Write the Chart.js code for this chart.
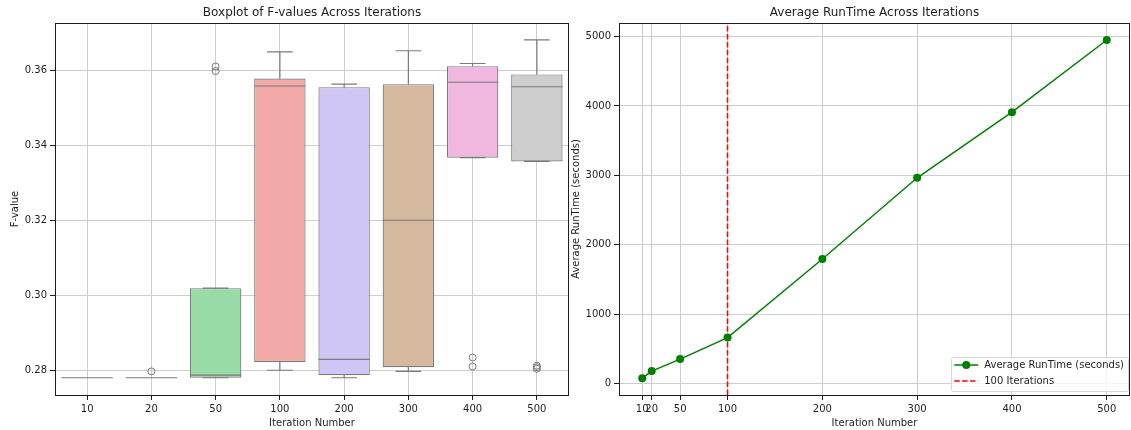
<!DOCTYPE html>
<html lang="en">
<head>
<meta charset="UTF-8">
<title>F-values and RunTime Across Iterations</title>
<script src="https://cdn.jsdelivr.net/npm/chart.js@4.4.1/dist/chart.umd.min.js"></script>
<style>
  body { margin: 0; background: #fff; }
  #wrap { position: relative; width: 1131px; height: 430px; }
  #boxChart { position: absolute; left: 0; top: 0; }
  #runChart { position: absolute; left: 570px; top: 0; }
</style>
</head>
<body>
<div id="wrap">
  <canvas id="boxChart" width="570" height="430"></canvas>
  <canvas id="runChart" width="561" height="430"></canvas>
</div>
<script>
// --- data: F-value boxplots ---
const iterations = ['10', '20', '50', '100', '200', '300', '400', '500'];
const fQ1 = [0.2780, 0.2780, 0.2780, 0.2822, 0.2787, 0.2808, 0.3367, 0.3357];
const fMedian = [0.2780, 0.2780, 0.2787, 0.3558, 0.2829, 0.3200, 0.3568, 0.3556];
const fQ3 = [0.2780, 0.2780, 0.3019, 0.3578, 0.3555, 0.3563, 0.3611, 0.3589];
const fWhiskerLow = [0.2780, 0.2780, 0.2780, 0.2800, 0.2780, 0.2797, 0.3367, 0.3357];
const fWhiskerHigh = [0.2780, 0.2780, 0.3019, 0.3649, 0.3563, 0.3652, 0.3618, 0.3681];
const fOutliers = [[], [0.2797], [0.3610, 0.3598], [], [], [], [0.2834, 0.2810], [0.2812, 0.2808, 0.2804]];
const fTicks = [0.28, 0.30, 0.32, 0.34, 0.36];

// --- data: average runtime ---
const runIterations = [10, 20, 50, 100, 200, 300, 400, 500];
const avgRunTime = [77, 180, 352, 662, 1795, 2965, 3910, 4950];
const runTicks = [0, 1000, 2000, 3000, 4000, 5000];
const markerIteration = 100;

const boxColors = ['#a7c6ea', '#f7b88f', '#98dba7', '#f1a9a7', '#d1c5f6', '#d5b99f', '#f0b7df', '#cecece'];
const edgeColor = '#7a7a7a';
const gridColor = '#cdcdcd';
const inkColor = '#1e1e1e';

Chart.defaults.font.family = "'DejaVu Sans', sans-serif";
Chart.defaults.font.size = 10;
Chart.defaults.color = inkColor;

// drop the extra label padding Chart.js reserves so the plot area is exact
function noPad(s) {
  s.paddingLeft = 0; s.paddingRight = 0; s.paddingTop = 0; s.paddingBottom = 0;
}

// axes frame + title centred over the plot area (like matplotlib)
const frameAndTitle = {
  id: 'frameAndTitle',
  afterDraw(chart, args, opts) {
    const { ctx, chartArea: a } = chart;
    ctx.save();
    ctx.strokeStyle = inkColor;
    ctx.lineWidth = 1;
    ctx.strokeRect(Math.round(a.left) + 0.5, Math.round(a.top) + 0.5,
      Math.round(a.right - a.left) - 1, Math.round(a.bottom - a.top));
    ctx.fillStyle = inkColor;
    ctx.font = "12px 'DejaVu Sans'";
    ctx.textAlign = 'center';
    ctx.textBaseline = 'middle';
    ctx.fillText(opts.text, (a.left + a.right) / 2, 13);
    ctx.restore();
  }
};

// whiskers, caps and medians on top of the floating bars
const boxWhiskers = {
  id: 'boxWhiskers',
  afterDatasetsDraw(chart) {
    const y = chart.scales.y;
    const ctx = chart.ctx;
    const bars = chart.getDatasetMeta(0).data;
    ctx.save();
    ctx.strokeStyle = edgeColor;
    ctx.lineWidth = 1.2;
    bars.forEach((bar, i) => {
      const cx = bar.x, half = bar.width / 2, cap = half / 2;
      const yq1 = y.getPixelForValue(fQ1[i]);
      const yq3 = y.getPixelForValue(fQ3[i]);
      const ylo = y.getPixelForValue(fWhiskerLow[i]);
      const yhi = y.getPixelForValue(fWhiskerHigh[i]);
      const ymed = y.getPixelForValue(fMedian[i]);
      ctx.beginPath();
      ctx.moveTo(cx, yq3); ctx.lineTo(cx, yhi);
      ctx.moveTo(cx - cap, yhi); ctx.lineTo(cx + cap, yhi);
      ctx.moveTo(cx, yq1); ctx.lineTo(cx, ylo);
      ctx.moveTo(cx - cap, ylo); ctx.lineTo(cx + cap, ylo);
      ctx.moveTo(cx - half, ymed); ctx.lineTo(cx + half, ymed);
      ctx.stroke();
    });
    ctx.restore();
  }
};

// legend box inside the lower-right corner
const insideLegend = {
  id: 'insideLegend',
  afterDraw(chart) {
    const { ctx, chartArea: a } = chart;
    const items = chart.data.datasets;
    ctx.save();
    ctx.font = "10px 'DejaVu Sans'";
    const textW = Math.max(...items.map(d => ctx.measureText(d.label).width));
    const w = 33 + textW + 4, h = 34;
    const x0 = a.right - 2 - w, y0 = a.bottom - 4 - h;
    ctx.fillStyle = 'rgba(255,255,255,0.8)';
    ctx.strokeStyle = '#d6d6d6';
    ctx.lineWidth = 1;
    ctx.beginPath();
    ctx.roundRect(Math.round(x0) + 0.5, Math.round(y0) + 0.5, Math.round(w), h, 2);
    ctx.fill();
    ctx.stroke();
    items.forEach((d, k) => {
      const ly = y0 + 8 + k * 16;
      ctx.strokeStyle = d.borderColor;
      ctx.lineWidth = d.borderWidth;
      ctx.setLineDash(d.borderDash || []);
      ctx.beginPath();
      ctx.moveTo(x0 + 3, ly); ctx.lineTo(x0 + 27, ly);
      ctx.stroke();
      ctx.setLineDash([]);
      if (d.pointRadius > 0) {
        ctx.fillStyle = d.pointBackgroundColor;
        ctx.beginPath();
        ctx.arc(x0 + 15, ly, d.pointRadius, 0, Math.PI * 2);
        ctx.fill();
      }
      ctx.fillStyle = inkColor;
      ctx.textAlign = 'left';
      ctx.textBaseline = 'middle';
      ctx.fillText(d.label, x0 + 33, ly);
    });
    ctx.restore();
  }
};

// --- left: boxplot ---
const outlierPoints = [];
fOutliers.forEach((vals, i) => vals.forEach(v => outlierPoints.push({ x: iterations[i], y: v })));

new Chart(document.getElementById('boxChart'), {
  type: 'bar',
  data: {
    labels: iterations,
    datasets: [{
      label: 'F-value',
      data: iterations.map((_, i) => [fQ1[i], fQ3[i]]),
      backgroundColor: boxColors,
      borderColor: edgeColor,
      borderWidth: 1.2,
      borderSkipped: false,
      barPercentage: 0.8,
      categoryPercentage: 1.0
    }, {
      type: 'line',
      label: 'outliers',
      data: outlierPoints,
      showLine: false,
      pointRadius: 3.5,
      pointBackgroundColor: 'rgba(0,0,0,0)',
      pointBorderColor: edgeColor,
      pointBorderWidth: 1
    }]
  },
  options: {
    responsive: false,
    animation: false,
    layout: { autoPadding: false, padding: { top: 23, right: 1, left: 0, bottom: 0 } },
    plugins: {
      legend: { display: false },
      tooltip: { enabled: false },
      frameAndTitle: { text: 'Boxplot of F-values Across Iterations' }
    },
    scales: {
      x: {
        type: 'category',
        offset: true,
        grid: { offset: false, color: gridColor, tickColor: inkColor, tickLength: 5 },
        border: { display: false },
        ticks: { padding: 3 },
        title: { display: true, text: 'Iteration Number', padding: { top: 0, bottom: 1 } },
        afterFit: s => { s.height = 35; noPad(s); }
      },
      y: {
        min: 0.2734,
        max: 0.3726,
        grid: { color: gridColor, tickColor: inkColor, tickLength: 5 },
        border: { display: false },
        afterBuildTicks: s => { s.ticks = fTicks.map(v => ({ value: v })); },
        ticks: { padding: 3, callback: v => v.toFixed(2) },
        title: { display: true, text: 'F-value', padding: { top: 9 } },
        afterFit: s => { s.width = 55; noPad(s); }
      }
    }
  },
  plugins: [boxWhiskers, frameAndTitle]
});

// --- right: runtime line ---
new Chart(document.getElementById('runChart'), {
  type: 'line',
  data: {
    datasets: [{
      label: 'Average RunTime (seconds)',
      data: runIterations.map((x, i) => ({ x: x, y: avgRunTime[i] })),
      borderColor: '#008000',
      borderWidth: 1.5,
      pointRadius: 4,
      pointBackgroundColor: '#008000',
      pointBorderWidth: 0,
      tension: 0
    }, {
      label: markerIteration + ' Iterations',
      data: [{ x: markerIteration, y: -165 }, { x: markerIteration, y: 5195 }],
      borderColor: '#ff0000',
      borderWidth: 1.5,
      borderDash: [5.5, 2.4],
      pointRadius: 0
    }]
  },
  options: {
    responsive: false,
    animation: false,
    layout: { autoPadding: false, padding: { top: 23, right: 1, left: 0, bottom: 0 } },
    plugins: {
      legend: { display: false },
      tooltip: { enabled: false },
      frameAndTitle: { text: 'Average RunTime Across Iterations' }
    },
    scales: {
      x: {
        type: 'linear',
        min: -14.5,
        max: 524.5,
        grid: { color: gridColor, tickColor: inkColor, tickLength: 5 },
        border: { display: false },
        afterBuildTicks: s => { s.ticks = runIterations.map(v => ({ value: v })); },
        ticks: { padding: 3, autoSkip: false, maxRotation: 0, callback: v => String(v) },
        title: { display: true, text: 'Iteration Number', padding: { top: 0, bottom: 1 } },
        afterFit: s => { s.height = 35; noPad(s); }
      },
      y: {
        min: -165,
        max: 5195,
        grid: { color: gridColor, tickColor: inkColor, tickLength: 5 },
        border: { display: false },
        afterBuildTicks: s => { s.ticks = runTicks.map(v => ({ value: v })); },
        ticks: { padding: 3, callback: v => String(v) },
        title: { display: true, text: 'Average RunTime (seconds)', padding: { top: 0 } },
        afterFit: s => { s.width = 49; noPad(s); }
      }
    }
  },
  plugins: [frameAndTitle, insideLegend]
});
</script>
</body>
</html>
